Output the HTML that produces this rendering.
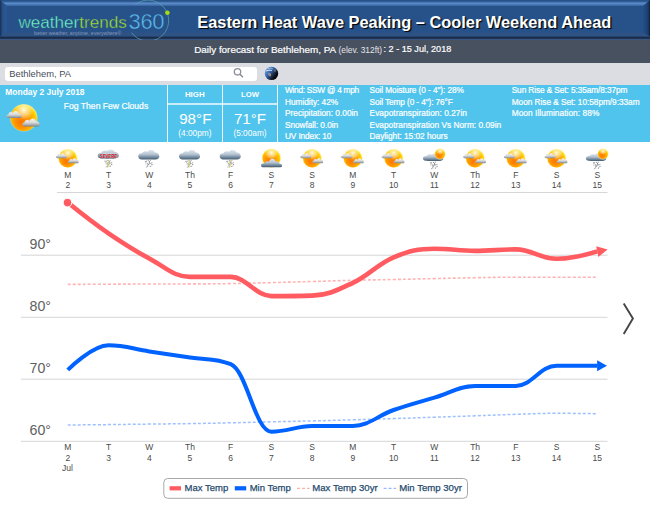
<!DOCTYPE html>
<html><head><meta charset="utf-8"><style>
*{margin:0;padding:0;box-sizing:border-box}
html,body{width:650px;height:505px;overflow:hidden;background:#fff;font-family:"Liberation Sans", sans-serif}
.t{position:absolute;white-space:nowrap;z-index:4}
#hdr{position:absolute;left:0;top:0;width:650px;height:40px;background:#29538b}
#gbar{position:absolute;left:0;top:40px;width:650px;height:23px;background:#485160}
#lbar{position:absolute;left:0;top:63px;width:650px;height:22px;background:#dcdde2}
#search{position:absolute;left:5px;top:67px;width:252px;height:14px;background:#fff;border-radius:3px}
#info{position:absolute;left:0;top:84.6px;width:650px;height:57.4px;background:#50c4ec}
.vl{position:absolute;top:85px;width:1.35px;height:57px;background:#eef9fe}
svg{position:absolute;left:0;top:0}
</style></head><body>

<div id="hdr"></div>
<svg width="650" height="63" style="z-index:1"><defs><linearGradient id="hl" x1="0" y1="0" x2="0" y2="1"><stop offset="0" stop-color="#3a69a6"/><stop offset="0.45" stop-color="#5a8ac7"/><stop offset="1" stop-color="#33629e"/></linearGradient><linearGradient id="lb" x1="0" y1="0" x2="1" y2="0"><stop offset="0" stop-color="#1a3256"/><stop offset="0.18" stop-color="#1f3c66"/><stop offset="0.3" stop-color="#27508a"/><stop offset="1" stop-color="#2b5894"/></linearGradient><linearGradient id="rb" x1="0" y1="0" x2="1" y2="0"><stop offset="0" stop-color="#23508a"/><stop offset="0.6" stop-color="#1d4274"/><stop offset="0.8" stop-color="#17345c"/><stop offset="1" stop-color="#0e203c"/></linearGradient></defs><rect x="0" y="0" width="650" height="38" fill="#265189"/><polygon points="0,1.6 650,1.6 643,6 7,6" fill="url(#hl)"/><polygon points="0,0 7,6 7,32.6 0,36.6" fill="url(#lb)"/><polygon points="650,0 643,6 643,32.6 650,36.6" fill="url(#rb)"/><polygon points="7,32.6 643,32.6 650,36.6 0,36.6" fill="#2f5285"/><rect x="0" y="36.6" width="650" height="2.3" fill="#1c2d4a"/><rect x="0" y="38.9" width="650" height="1.1" fill="#3a5580"/></svg>
<svg width="200" height="40" style="z-index:2"><path d="M 135.5 4.5 A 20.5 20.5 0 1 1 131.5 32.5" stroke="#5aa3ad" stroke-width="0.8" fill="none" opacity="0.9"/><circle cx="167.4" cy="12.7" r="2.3" fill="#a4dc10"/></svg>
<div class="t" style="left:18.40px;top:14.32px;font-size:17.1px;line-height:17.1px;color:#fff;font-weight:normal;z-index:3;letter-spacing:0px;-webkit-text-stroke:0.35px #265189"><span style="color:#70f6c2">weather</span><span style="color:#a2e02c">trends</span></div>
<div class="t" style="left:128.60px;top:11.08px;font-size:22px;line-height:22px;color:#5cbcec;font-weight:normal;z-index:3;letter-spacing:-0.35px;-webkit-text-stroke:0.45px #265189">360</div>
<div class="t" style="left:34.00px;top:30.60px;font-size:5.2px;line-height:5.2px;color:#8497b5;font-weight:normal;z-index:3">better weather, anytime, everywhere®</div>
<div class="t" style="left:197.30px;top:14.14px;font-size:16.37px;line-height:16.37px;color:#fff;font-weight:bold;z-index:3;text-shadow:1.2px 1.4px 1px #000">Eastern Heat Wave Peaking – Cooler Weekend Ahead</div>
<div id="gbar"></div>
<div class="t" style="left:194.20px;top:44.62px;font-size:9.9px;line-height:9.9px;color:#fff;font-weight:normal;-webkit-text-stroke:0.2px #fff;">Daily forecast for Bethlehem, PA</div>
<div class="t" style="left:338.50px;top:45.89px;font-size:8.4px;line-height:8.4px;color:#e4e6ea;font-weight:normal;">(elev. 312ft)</div>
<div class="t" style="left:383.50px;top:45.30px;font-size:9.1px;line-height:9.1px;color:#fff;font-weight:normal;-webkit-text-stroke:0.2px #fff;">: 2 - 15 Jul, 2018</div>
<div id="lbar"></div><div id="search"></div>
<div class="t" style="left:9.20px;top:68.84px;font-size:9.4px;line-height:9.4px;color:#474e5a;font-weight:normal;">Bethlehem, PA</div>
<svg width="650" height="100" style="z-index:2"><circle cx="237.5" cy="71.8" r="3.2" stroke="#8a8f98" stroke-width="1.3" fill="none"/><line x1="239.8" y1="74.1" x2="243" y2="77.3" stroke="#8a8f98" stroke-width="1.5"/><defs><linearGradient id="gl" x1="0.1" y1="0.2" x2="0.95" y2="0.85"><stop offset="0" stop-color="#6a9ad8"/><stop offset="0.35" stop-color="#2f62ad"/><stop offset="0.58" stop-color="#1d3152"/><stop offset="0.78" stop-color="#0a0d14"/><stop offset="1" stop-color="#050608"/></linearGradient></defs><circle cx="271.5" cy="73.4" r="6.7" fill="url(#gl)"/><path d="M 266 71 q 3 -1.5 6 -0.5" stroke="#e8f0fa" stroke-width="1" fill="none" opacity="0.85"/><path d="M 268 68.5 q 3 -1 5 0.5" stroke="#cfe0f5" stroke-width="0.8" fill="none" opacity="0.7"/><path d="M 268 73 q 2 -0.5 3 1 q 0.5 2 -1 2.5 q -2 -0.5 -2 -3.5 z" fill="#c8a080" opacity="0.75"/><ellipse cx="275" cy="70.5" rx="0.9" ry="1.3" fill="#b89070" opacity="0.6"/></svg>
<div id="info"></div>
<div class="vl" style="left:166.9px"></div>
<div class="vl" style="left:221.9px"></div>
<div class="vl" style="left:276.75px"></div>
<div style="position:absolute;left:167px;top:102.8px;width:110px;height:2px;background:rgba(255,255,255,0.7)"></div>
<div class="t" style="left:5.30px;top:88.15px;font-size:8.45px;line-height:8.45px;color:#fff;font-weight:bold;">Monday 2 July 2018</div>
<div class="t" style="left:63.80px;top:101.92px;font-size:8.6px;line-height:8.6px;color:#fff;font-weight:normal;-webkit-text-stroke:0.22px #fff;">Fog Then Few Clouds</div>
<div class="t" style="left:169.80px;top:90.61px;width:50px;text-align:center;font-size:7.9px;line-height:7.9px;color:#fff;font-weight:bold;">HIGH</div>
<div class="t" style="left:225.00px;top:90.78px;width:50px;text-align:center;font-size:7.7px;line-height:7.7px;color:#fff;font-weight:bold;">LOW</div>
<div class="t" style="left:170.30px;top:111.43px;width:50px;text-align:center;font-size:15.2px;line-height:15.2px;color:#fff;font-weight:normal;">98°F</div>
<div class="t" style="left:225.00px;top:111.43px;width:50px;text-align:center;font-size:15.2px;line-height:15.2px;color:#fff;font-weight:normal;">71°F</div>
<div class="t" style="left:169.90px;top:129.47px;width:50px;text-align:center;font-size:8.3px;line-height:8.3px;color:#fff;font-weight:normal;">(4:00pm)</div>
<div class="t" style="left:225.00px;top:129.47px;width:50px;text-align:center;font-size:8.3px;line-height:8.3px;color:#fff;font-weight:normal;">(5:00am)</div>
<div class="t" style="left:285.00px;top:86.47px;font-size:8.3px;line-height:8.3px;color:#fff;font-weight:normal;-webkit-text-stroke:0.22px #fff;letter-spacing:-0.276px">Wind: SSW @ 4 mph</div>
<div class="t" style="left:285.00px;top:97.97px;font-size:8.3px;line-height:8.3px;color:#fff;font-weight:normal;-webkit-text-stroke:0.22px #fff;letter-spacing:-0.031px">Humidity: 42%</div>
<div class="t" style="left:285.00px;top:109.27px;font-size:8.3px;line-height:8.3px;color:#fff;font-weight:normal;-webkit-text-stroke:0.22px #fff;letter-spacing:0.005px">Precipitation: 0.00in</div>
<div class="t" style="left:285.00px;top:120.77px;font-size:8.3px;line-height:8.3px;color:#fff;font-weight:normal;-webkit-text-stroke:0.22px #fff;letter-spacing:-0.06px">Snowfall: 0.0in</div>
<div class="t" style="left:285.00px;top:132.17px;font-size:8.3px;line-height:8.3px;color:#fff;font-weight:normal;-webkit-text-stroke:0.22px #fff;letter-spacing:-0.15px">UV Index: 10</div>
<div class="t" style="left:369.60px;top:86.47px;font-size:8.3px;line-height:8.3px;color:#fff;font-weight:normal;-webkit-text-stroke:0.22px #fff;letter-spacing:-0.089px">Soil Moisture (0 - 4"): 28%</div>
<div class="t" style="left:369.60px;top:97.97px;font-size:8.3px;line-height:8.3px;color:#fff;font-weight:normal;-webkit-text-stroke:0.22px #fff;letter-spacing:-0.117px">Soil Temp (0 - 4"): 76°F</div>
<div class="t" style="left:369.60px;top:109.27px;font-size:8.3px;line-height:8.3px;color:#fff;font-weight:normal;-webkit-text-stroke:0.22px #fff;letter-spacing:0.038px">Evapotranspiration: 0.27in</div>
<div class="t" style="left:369.60px;top:120.77px;font-size:8.3px;line-height:8.3px;color:#fff;font-weight:normal;-webkit-text-stroke:0.22px #fff;letter-spacing:0.018px">Evapotranspiration Vs Norm: 0.09in</div>
<div class="t" style="left:369.60px;top:132.17px;font-size:8.3px;line-height:8.3px;color:#fff;font-weight:normal;-webkit-text-stroke:0.22px #fff;letter-spacing:-0.019px">Daylight: 15:02 hours</div>
<div class="t" style="left:511.70px;top:86.47px;font-size:8.3px;line-height:8.3px;color:#fff;font-weight:normal;-webkit-text-stroke:0.22px #fff;letter-spacing:-0.103px">Sun Rise &amp; Set: 5:35am/8:37pm</div>
<div class="t" style="left:511.70px;top:97.97px;font-size:8.3px;line-height:8.3px;color:#fff;font-weight:normal;-webkit-text-stroke:0.22px #fff;letter-spacing:-0.042px">Moon Rise &amp; Set: 10:58pm/9:33am</div>
<div class="t" style="left:511.70px;top:109.27px;font-size:8.3px;line-height:8.3px;color:#fff;font-weight:normal;-webkit-text-stroke:0.22px #fff;letter-spacing:0.064px">Moon Illumination: 88%</div>
<svg width="650" height="505" style="z-index:1"><defs>
<radialGradient id="sg" cx="0.45" cy="0.58" r="0.58" fx="0.4" fy="0.68"><stop offset="0" stop-color="#ff7400"/><stop offset="0.45" stop-color="#ff9400"/><stop offset="0.78" stop-color="#ffbc00"/><stop offset="0.92" stop-color="#ffd600"/><stop offset="1" stop-color="#ffea60"/></radialGradient><radialGradient id="sh" cx="0.5" cy="0.2" r="0.38"><stop offset="0" stop-color="#fffef0" stop-opacity="0.95"/><stop offset="0.6" stop-color="#fff6c0" stop-opacity="0.5"/><stop offset="1" stop-color="#fff0a0" stop-opacity="0"/></radialGradient>
<linearGradient id="cg" x1="0" y1="0" x2="0" y2="1"><stop offset="0" stop-color="#f6f6f6"/><stop offset="0.5" stop-color="#dadada"/><stop offset="0.8" stop-color="#a8acae"/><stop offset="1" stop-color="#7c8084"/></linearGradient>
<linearGradient id="cg2" x1="0" y1="0" x2="0" y2="1"><stop offset="0" stop-color="#dde6ee"/><stop offset="0.45" stop-color="#b6c4d2"/><stop offset="0.75" stop-color="#758ca1"/><stop offset="1" stop-color="#44596c"/></linearGradient>
</defs><circle cx="23.80" cy="117.80" r="13.80" fill="#ffe9a0" opacity="0.55"/><circle cx="23.80" cy="117.80" r="13.2" fill="url(#sg)"/><circle cx="23.80" cy="117.80" r="13.2" fill="url(#sh)"/><g transform="translate(14.50,114.50) scale(7)"><path d="M -0.92 0.45 C -1.22 0.45 -1.22 -0.02 -0.86 0.0 C -0.86 -0.36 -0.42 -0.46 -0.26 -0.2 C -0.12 -0.62 0.48 -0.62 0.54 -0.16 C 0.86 -0.22 1.12 0.1 0.96 0.32 C 1.04 0.46 0.96 0.5 0.85 0.5 L -0.88 0.5 Z" fill="url(#cg)"/></g><g transform="translate(31.50,122.50) scale(8)"><path d="M -0.92 0.45 C -1.22 0.45 -1.22 -0.02 -0.86 0.0 C -0.86 -0.36 -0.42 -0.46 -0.26 -0.2 C -0.12 -0.62 0.48 -0.62 0.54 -0.16 C 0.86 -0.22 1.12 0.1 0.96 0.32 C 1.04 0.46 0.96 0.5 0.85 0.5 L -0.88 0.5 Z" fill="url(#cg)"/></g><line x1="57" y1="192.5" x2="607.5" y2="192.5" stroke="#d6d6d6" stroke-width="1"/><line x1="21" y1="255.2" x2="607.5" y2="255.2" stroke="#d6d6d6" stroke-width="1"/><line x1="21" y1="317.3" x2="607.5" y2="317.3" stroke="#d6d6d6" stroke-width="1"/><line x1="21" y1="379.2" x2="607.5" y2="379.2" stroke="#d6d6d6" stroke-width="1"/><line x1="21" y1="441.3" x2="607.5" y2="441.3" stroke="#d6d6d6" stroke-width="1"/><path d="M 67.80 284.40 C 67.80 284.40 92.24 284.28 108.53 284.20 C 124.82 284.12 132.97 284.06 149.26 284.00 C 165.55 283.94 173.70 283.98 189.99 283.90 C 206.28 283.82 214.43 283.86 230.72 283.60 C 247.01 283.34 255.16 283.02 271.45 282.60 C 287.74 282.18 295.89 281.96 312.18 281.50 C 328.47 281.04 336.62 280.70 352.91 280.30 C 369.20 279.90 377.35 279.84 393.64 279.50 C 409.93 279.16 418.08 278.96 434.37 278.60 C 450.66 278.24 458.81 277.98 475.10 277.70 C 491.39 277.42 499.54 277.20 515.83 277.20 C 532.12 277.20 540.27 277.20 556.56 277.20 C 572.85 277.20 597.29 277.20 597.29 277.20" stroke="#ffb4b4" stroke-width="1.6" stroke-dasharray="3,2" fill="none"/><path d="M 67.80 425.00 C 67.80 425.00 92.24 424.78 108.53 424.60 C 124.82 424.42 132.97 424.30 149.26 424.10 C 165.55 423.90 173.70 423.86 189.99 423.60 C 206.28 423.34 214.43 423.16 230.72 422.80 C 247.01 422.44 255.16 422.18 271.45 421.80 C 287.74 421.42 295.89 421.30 312.18 420.90 C 328.47 420.50 336.62 420.26 352.91 419.80 C 369.20 419.34 377.35 419.12 393.64 418.60 C 409.93 418.08 418.08 417.76 434.37 417.20 C 450.66 416.64 458.81 416.38 475.10 415.80 C 491.39 415.22 499.54 414.80 515.83 414.30 C 532.12 413.80 540.27 413.30 556.56 413.30 C 572.85 413.30 597.29 413.70 597.29 413.70" stroke="#9ec0ff" stroke-width="1.5" stroke-dasharray="3,2" fill="none"/><path d="M 67.80 202.50 C 67.80 202.50 92.24 222.20 108.53 233.40 C 124.82 244.60 132.97 249.80 149.26 258.50 C 165.55 267.20 173.70 276.90 189.99 276.90 C 206.28 276.90 214.43 276.90 230.72 276.90 C 247.01 276.90 255.16 296.10 271.45 296.10 C 287.74 296.10 295.89 296.10 312.18 295.60 C 328.47 295.10 336.62 290.46 352.91 282.80 C 369.20 275.14 377.35 264.12 393.64 257.30 C 409.93 250.48 418.08 248.70 434.37 248.70 C 450.66 248.70 458.81 250.90 475.10 250.90 C 491.39 250.90 499.54 249.40 515.83 249.40 C 532.12 249.40 540.27 258.80 556.56 258.80 C 572.85 258.80 597.29 251.40 597.29 251.40" stroke="#ff5b60" stroke-width="4.6" fill="none" stroke-linejoin="round"/><path d="M 67.80 369.90 C 67.80 369.90 92.24 345.30 108.53 345.30 C 124.82 345.30 132.97 348.96 149.26 351.40 C 165.55 353.84 173.70 354.94 189.99 357.50 C 206.28 360.06 214.43 357.50 230.72 364.20 C 247.01 370.90 255.16 431.70 271.45 431.70 C 287.74 431.70 295.89 426.30 312.18 426.10 C 328.47 425.90 336.62 426.10 352.91 425.90 C 369.20 425.70 377.35 415.66 393.64 410.00 C 409.93 404.34 418.08 402.40 434.37 397.60 C 450.66 392.80 458.81 386.10 475.10 386.00 C 491.39 385.90 499.54 386.00 515.83 385.90 C 532.12 385.80 540.27 365.70 556.56 365.70 C 572.85 365.70 597.29 365.80 597.29 365.80" stroke="#0062ff" stroke-width="4" fill="none" stroke-linejoin="round"/><path d="M 607.60 249.54 L 596.22 246.21 L 598.38 256.99 Z" fill="#ff5b60"/><path d="M 607.00 365.80 L 597.10 360.25 L 597.10 371.35 Z" fill="#0062ff"/><circle cx="67.5" cy="202.6" r="4.3" fill="#ff5b60" stroke="#fff" stroke-width="1"/><path d="M 623.7 303.6 L 632.9 318.6 L 623.7 333.9" stroke="#444" stroke-width="1.9" fill="none"/><circle cx="67.80" cy="158.40" r="9.70" fill="#ffe9a0" opacity="0.55"/><circle cx="67.80" cy="158.40" r="9.1" fill="url(#sg)"/><circle cx="67.80" cy="158.40" r="9.1" fill="url(#sh)"/><g transform="translate(61.60,155.80) scale(5.1)"><path d="M -0.92 0.45 C -1.22 0.45 -1.22 -0.02 -0.86 0.0 C -0.86 -0.36 -0.42 -0.46 -0.26 -0.2 C -0.12 -0.62 0.48 -0.62 0.54 -0.16 C 0.86 -0.22 1.12 0.1 0.96 0.32 C 1.04 0.46 0.96 0.5 0.85 0.5 L -0.88 0.5 Z" fill="url(#cg)"/></g><g transform="translate(73.70,160.70) scale(5.0)"><path d="M -0.92 0.45 C -1.22 0.45 -1.22 -0.02 -0.86 0.0 C -0.86 -0.36 -0.42 -0.46 -0.26 -0.2 C -0.12 -0.62 0.48 -0.62 0.54 -0.16 C 0.86 -0.22 1.12 0.1 0.96 0.32 C 1.04 0.46 0.96 0.5 0.85 0.5 L -0.88 0.5 Z" fill="url(#cg)"/></g><g fill="#6d747a"><circle cx="105.60" cy="162.27" r="0.56" opacity="0.48"/><circle cx="107.55" cy="163.75" r="0.41" opacity="0.68"/><circle cx="107.88" cy="160.26" r="0.42" opacity="0.49"/><circle cx="111.10" cy="162.97" r="0.43" opacity="0.55"/><circle cx="111.60" cy="164.39" r="0.54" opacity="0.63"/><circle cx="106.21" cy="166.83" r="0.61" opacity="0.58"/><circle cx="104.98" cy="161.01" r="0.48" opacity="0.82"/><circle cx="109.27" cy="161.27" r="0.56" opacity="0.62"/><circle cx="105.36" cy="163.83" r="0.41" opacity="0.54"/><circle cx="108.05" cy="164.76" r="0.48" opacity="0.71"/><circle cx="106.98" cy="163.17" r="0.60" opacity="0.76"/><circle cx="109.18" cy="161.71" r="0.53" opacity="0.84"/><circle cx="107.18" cy="165.11" r="0.65" opacity="0.50"/><circle cx="110.56" cy="162.93" r="0.44" opacity="0.67"/><circle cx="110.18" cy="160.27" r="0.59" opacity="0.71"/><circle cx="107.48" cy="166.13" r="0.57" opacity="0.72"/><circle cx="108.22" cy="164.06" r="0.61" opacity="0.88"/><circle cx="109.78" cy="163.32" r="0.42" opacity="0.77"/><circle cx="111.87" cy="164.53" r="0.61" opacity="0.58"/><circle cx="109.89" cy="162.70" r="0.41" opacity="0.66"/><circle cx="105.02" cy="161.18" r="0.41" opacity="0.80"/><circle cx="106.17" cy="160.91" r="0.50" opacity="0.84"/><circle cx="108.04" cy="160.56" r="0.54" opacity="0.85"/><circle cx="110.68" cy="165.73" r="0.47" opacity="0.64"/><circle cx="111.68" cy="162.51" r="0.64" opacity="0.52"/><circle cx="106.09" cy="161.23" r="0.46" opacity="0.67"/><circle cx="106.86" cy="164.12" r="0.40" opacity="0.64"/><circle cx="109.07" cy="162.58" r="0.64" opacity="0.76"/><circle cx="109.40" cy="163.61" r="0.57" opacity="0.47"/><circle cx="110.07" cy="166.30" r="0.62" opacity="0.81"/></g><path d="M 109.03 160.00 l -2 3.6 l 2.4 0.2 l -1.8 4" stroke="#d8cc60" stroke-width="0.9" fill="none" opacity="0.85"/><g transform="translate(108.23,153.90) scale(1.0,0.95)"><path d="M -10.5 2.2 C -10.8 -0.5 -8.5 -1.5 -6.8 -1.2 C -5.8 -3.6 -2.6 -4 -1.2 -2.8 C 0.4 -5.4 5.2 -5.2 6 -2.2 C 8.4 -2.4 10.8 -0.4 10.6 2.2 C 10.4 4.4 8 5 5 5 L -5 5 C -8.5 5 -10.3 4.2 -10.5 2.2 Z" fill="url(#cg2)"/></g><text x="99.83" y="158.10" font-family="Liberation Sans, sans-serif" font-weight="bold" font-size="5" fill="#cc0c18" stroke="#ffffff" stroke-width="0.3" paint-order="stroke" textLength="17.2" lengthAdjust="spacingAndGlyphs">SEVERE</text><g fill="#6d747a"><circle cx="145.83" cy="162.47" r="0.56" opacity="0.48"/><circle cx="147.78" cy="163.95" r="0.41" opacity="0.68"/><circle cx="148.11" cy="160.46" r="0.42" opacity="0.49"/><circle cx="151.33" cy="163.17" r="0.43" opacity="0.55"/><circle cx="151.83" cy="164.59" r="0.54" opacity="0.63"/><circle cx="146.44" cy="167.03" r="0.61" opacity="0.58"/><circle cx="145.21" cy="161.21" r="0.48" opacity="0.82"/><circle cx="149.50" cy="161.47" r="0.56" opacity="0.62"/><circle cx="145.59" cy="164.03" r="0.41" opacity="0.54"/><circle cx="148.28" cy="164.96" r="0.48" opacity="0.71"/><circle cx="147.21" cy="163.37" r="0.60" opacity="0.76"/><circle cx="149.41" cy="161.91" r="0.53" opacity="0.84"/><circle cx="147.41" cy="165.31" r="0.65" opacity="0.50"/><circle cx="150.79" cy="163.13" r="0.44" opacity="0.67"/><circle cx="150.41" cy="160.47" r="0.59" opacity="0.71"/><circle cx="147.71" cy="166.33" r="0.57" opacity="0.72"/><circle cx="148.45" cy="164.26" r="0.61" opacity="0.88"/><circle cx="150.01" cy="163.52" r="0.42" opacity="0.77"/><circle cx="152.10" cy="164.73" r="0.61" opacity="0.58"/><circle cx="150.12" cy="162.90" r="0.41" opacity="0.66"/><circle cx="145.25" cy="161.38" r="0.41" opacity="0.80"/><circle cx="146.40" cy="161.11" r="0.50" opacity="0.84"/><circle cx="148.27" cy="160.76" r="0.54" opacity="0.85"/><circle cx="150.91" cy="165.93" r="0.47" opacity="0.64"/><circle cx="151.91" cy="162.71" r="0.64" opacity="0.52"/><circle cx="146.32" cy="161.43" r="0.46" opacity="0.67"/><circle cx="147.09" cy="164.32" r="0.40" opacity="0.64"/><circle cx="149.30" cy="162.78" r="0.64" opacity="0.76"/><circle cx="149.63" cy="163.81" r="0.57" opacity="0.47"/><circle cx="150.30" cy="166.50" r="0.62" opacity="0.81"/></g><g transform="translate(148.76,154.60) scale(1,1)"><path d="M -10.5 2.2 C -10.8 -0.5 -8.5 -1.5 -6.8 -1.2 C -5.8 -3.6 -2.6 -4 -1.2 -2.8 C 0.4 -5.4 5.2 -5.2 6 -2.2 C 8.4 -2.4 10.8 -0.4 10.6 2.2 C 10.4 4.4 8 5 5 5 L -5 5 C -8.5 5 -10.3 4.2 -10.5 2.2 Z" fill="url(#cg2)"/></g><g fill="#6d747a"><circle cx="186.56" cy="162.47" r="0.56" opacity="0.48"/><circle cx="188.51" cy="163.95" r="0.41" opacity="0.68"/><circle cx="188.84" cy="160.46" r="0.42" opacity="0.49"/><circle cx="192.06" cy="163.17" r="0.43" opacity="0.55"/><circle cx="192.56" cy="164.59" r="0.54" opacity="0.63"/><circle cx="187.17" cy="167.03" r="0.61" opacity="0.58"/><circle cx="185.94" cy="161.21" r="0.48" opacity="0.82"/><circle cx="190.23" cy="161.47" r="0.56" opacity="0.62"/><circle cx="186.32" cy="164.03" r="0.41" opacity="0.54"/><circle cx="189.01" cy="164.96" r="0.48" opacity="0.71"/><circle cx="187.94" cy="163.37" r="0.60" opacity="0.76"/><circle cx="190.14" cy="161.91" r="0.53" opacity="0.84"/><circle cx="188.14" cy="165.31" r="0.65" opacity="0.50"/><circle cx="191.52" cy="163.13" r="0.44" opacity="0.67"/><circle cx="191.14" cy="160.47" r="0.59" opacity="0.71"/><circle cx="188.44" cy="166.33" r="0.57" opacity="0.72"/><circle cx="189.18" cy="164.26" r="0.61" opacity="0.88"/><circle cx="190.74" cy="163.52" r="0.42" opacity="0.77"/><circle cx="192.83" cy="164.73" r="0.61" opacity="0.58"/><circle cx="190.85" cy="162.90" r="0.41" opacity="0.66"/><circle cx="185.98" cy="161.38" r="0.41" opacity="0.80"/><circle cx="187.13" cy="161.11" r="0.50" opacity="0.84"/><circle cx="189.00" cy="160.76" r="0.54" opacity="0.85"/><circle cx="191.64" cy="165.93" r="0.47" opacity="0.64"/><circle cx="192.64" cy="162.71" r="0.64" opacity="0.52"/><circle cx="187.05" cy="161.43" r="0.46" opacity="0.67"/><circle cx="187.82" cy="164.32" r="0.40" opacity="0.64"/><circle cx="190.03" cy="162.78" r="0.64" opacity="0.76"/><circle cx="190.36" cy="163.81" r="0.57" opacity="0.47"/><circle cx="191.03" cy="166.50" r="0.62" opacity="0.81"/></g><path d="M 189.99 160.20 l -2 3.6 l 2.4 0.2 l -1.8 4" stroke="#d8cc60" stroke-width="0.9" fill="none" opacity="0.85"/><g transform="translate(189.49,154.60) scale(1,1)"><path d="M -10.5 2.2 C -10.8 -0.5 -8.5 -1.5 -6.8 -1.2 C -5.8 -3.6 -2.6 -4 -1.2 -2.8 C 0.4 -5.4 5.2 -5.2 6 -2.2 C 8.4 -2.4 10.8 -0.4 10.6 2.2 C 10.4 4.4 8 5 5 5 L -5 5 C -8.5 5 -10.3 4.2 -10.5 2.2 Z" fill="url(#cg2)"/></g><g fill="#6d747a"><circle cx="227.29" cy="162.47" r="0.56" opacity="0.48"/><circle cx="229.24" cy="163.95" r="0.41" opacity="0.68"/><circle cx="229.57" cy="160.46" r="0.42" opacity="0.49"/><circle cx="232.79" cy="163.17" r="0.43" opacity="0.55"/><circle cx="233.29" cy="164.59" r="0.54" opacity="0.63"/><circle cx="227.90" cy="167.03" r="0.61" opacity="0.58"/><circle cx="226.67" cy="161.21" r="0.48" opacity="0.82"/><circle cx="230.96" cy="161.47" r="0.56" opacity="0.62"/><circle cx="227.05" cy="164.03" r="0.41" opacity="0.54"/><circle cx="229.74" cy="164.96" r="0.48" opacity="0.71"/><circle cx="228.67" cy="163.37" r="0.60" opacity="0.76"/><circle cx="230.87" cy="161.91" r="0.53" opacity="0.84"/><circle cx="228.87" cy="165.31" r="0.65" opacity="0.50"/><circle cx="232.25" cy="163.13" r="0.44" opacity="0.67"/><circle cx="231.87" cy="160.47" r="0.59" opacity="0.71"/><circle cx="229.17" cy="166.33" r="0.57" opacity="0.72"/><circle cx="229.91" cy="164.26" r="0.61" opacity="0.88"/><circle cx="231.47" cy="163.52" r="0.42" opacity="0.77"/><circle cx="233.56" cy="164.73" r="0.61" opacity="0.58"/><circle cx="231.58" cy="162.90" r="0.41" opacity="0.66"/><circle cx="226.71" cy="161.38" r="0.41" opacity="0.80"/><circle cx="227.86" cy="161.11" r="0.50" opacity="0.84"/><circle cx="229.73" cy="160.76" r="0.54" opacity="0.85"/><circle cx="232.37" cy="165.93" r="0.47" opacity="0.64"/><circle cx="233.37" cy="162.71" r="0.64" opacity="0.52"/><circle cx="227.78" cy="161.43" r="0.46" opacity="0.67"/><circle cx="228.55" cy="164.32" r="0.40" opacity="0.64"/><circle cx="230.76" cy="162.78" r="0.64" opacity="0.76"/><circle cx="231.09" cy="163.81" r="0.57" opacity="0.47"/><circle cx="231.76" cy="166.50" r="0.62" opacity="0.81"/></g><path d="M 230.72 160.20 l -2 3.6 l 2.4 0.2 l -1.8 4" stroke="#d8cc60" stroke-width="0.9" fill="none" opacity="0.85"/><g transform="translate(230.22,154.60) scale(1,1)"><path d="M -10.5 2.2 C -10.8 -0.5 -8.5 -1.5 -6.8 -1.2 C -5.8 -3.6 -2.6 -4 -1.2 -2.8 C 0.4 -5.4 5.2 -5.2 6 -2.2 C 8.4 -2.4 10.8 -0.4 10.6 2.2 C 10.4 4.4 8 5 5 5 L -5 5 C -8.5 5 -10.3 4.2 -10.5 2.2 Z" fill="url(#cg2)"/></g><circle cx="271.45" cy="158.10" r="9.70" fill="#ffe9a0" opacity="0.55"/><circle cx="271.45" cy="158.10" r="9.1" fill="url(#sg)"/><circle cx="271.45" cy="158.10" r="9.1" fill="url(#sh)"/><g transform="translate(271.45,162.30) scale(1,1)"><path d="M -10.3 3.5 C -11 1.8 -9 0.6 -7 0.9 C -6 -1.2 -3.6 -1.6 -2.6 -0.6 C -1.6 -4.2 3.2 -4.6 4.1 -1 C 6 -1.5 8 0 8 1.4 C 10 1.4 11 2.8 10.5 4.2 C 10.2 4.7 9.6 4.9 9 4.9 L -9 4.9 C -9.8 4.9 -10.2 4.2 -10.3 3.5 Z" fill="url(#cg2)"/></g><circle cx="312.18" cy="158.40" r="9.70" fill="#ffe9a0" opacity="0.55"/><circle cx="312.18" cy="158.40" r="9.1" fill="url(#sg)"/><circle cx="312.18" cy="158.40" r="9.1" fill="url(#sh)"/><g transform="translate(305.98,155.80) scale(5.1)"><path d="M -0.92 0.45 C -1.22 0.45 -1.22 -0.02 -0.86 0.0 C -0.86 -0.36 -0.42 -0.46 -0.26 -0.2 C -0.12 -0.62 0.48 -0.62 0.54 -0.16 C 0.86 -0.22 1.12 0.1 0.96 0.32 C 1.04 0.46 0.96 0.5 0.85 0.5 L -0.88 0.5 Z" fill="url(#cg)"/></g><g transform="translate(318.08,160.70) scale(5.0)"><path d="M -0.92 0.45 C -1.22 0.45 -1.22 -0.02 -0.86 0.0 C -0.86 -0.36 -0.42 -0.46 -0.26 -0.2 C -0.12 -0.62 0.48 -0.62 0.54 -0.16 C 0.86 -0.22 1.12 0.1 0.96 0.32 C 1.04 0.46 0.96 0.5 0.85 0.5 L -0.88 0.5 Z" fill="url(#cg)"/></g><circle cx="352.91" cy="158.40" r="9.70" fill="#ffe9a0" opacity="0.55"/><circle cx="352.91" cy="158.40" r="9.1" fill="url(#sg)"/><circle cx="352.91" cy="158.40" r="9.1" fill="url(#sh)"/><g transform="translate(346.71,155.80) scale(5.1)"><path d="M -0.92 0.45 C -1.22 0.45 -1.22 -0.02 -0.86 0.0 C -0.86 -0.36 -0.42 -0.46 -0.26 -0.2 C -0.12 -0.62 0.48 -0.62 0.54 -0.16 C 0.86 -0.22 1.12 0.1 0.96 0.32 C 1.04 0.46 0.96 0.5 0.85 0.5 L -0.88 0.5 Z" fill="url(#cg)"/></g><g transform="translate(358.81,160.70) scale(5.0)"><path d="M -0.92 0.45 C -1.22 0.45 -1.22 -0.02 -0.86 0.0 C -0.86 -0.36 -0.42 -0.46 -0.26 -0.2 C -0.12 -0.62 0.48 -0.62 0.54 -0.16 C 0.86 -0.22 1.12 0.1 0.96 0.32 C 1.04 0.46 0.96 0.5 0.85 0.5 L -0.88 0.5 Z" fill="url(#cg)"/></g><circle cx="393.64" cy="158.40" r="9.70" fill="#ffe9a0" opacity="0.55"/><circle cx="393.64" cy="158.40" r="9.1" fill="url(#sg)"/><circle cx="393.64" cy="158.40" r="9.1" fill="url(#sh)"/><g transform="translate(387.44,155.80) scale(5.1)"><path d="M -0.92 0.45 C -1.22 0.45 -1.22 -0.02 -0.86 0.0 C -0.86 -0.36 -0.42 -0.46 -0.26 -0.2 C -0.12 -0.62 0.48 -0.62 0.54 -0.16 C 0.86 -0.22 1.12 0.1 0.96 0.32 C 1.04 0.46 0.96 0.5 0.85 0.5 L -0.88 0.5 Z" fill="url(#cg)"/></g><g transform="translate(399.54,160.70) scale(5.0)"><path d="M -0.92 0.45 C -1.22 0.45 -1.22 -0.02 -0.86 0.0 C -0.86 -0.36 -0.42 -0.46 -0.26 -0.2 C -0.12 -0.62 0.48 -0.62 0.54 -0.16 C 0.86 -0.22 1.12 0.1 0.96 0.32 C 1.04 0.46 0.96 0.5 0.85 0.5 L -0.88 0.5 Z" fill="url(#cg)"/></g><g fill="#6d747a"><circle cx="430.94" cy="164.07" r="0.56" opacity="0.48"/><circle cx="432.89" cy="165.55" r="0.41" opacity="0.68"/><circle cx="433.22" cy="162.06" r="0.42" opacity="0.49"/><circle cx="436.44" cy="164.77" r="0.43" opacity="0.55"/><circle cx="436.94" cy="166.19" r="0.54" opacity="0.63"/><circle cx="431.55" cy="168.63" r="0.61" opacity="0.58"/><circle cx="430.32" cy="162.81" r="0.48" opacity="0.82"/><circle cx="434.61" cy="163.07" r="0.56" opacity="0.62"/><circle cx="430.70" cy="165.63" r="0.41" opacity="0.54"/><circle cx="433.39" cy="166.56" r="0.48" opacity="0.71"/><circle cx="432.32" cy="164.97" r="0.60" opacity="0.76"/><circle cx="434.52" cy="163.51" r="0.53" opacity="0.84"/><circle cx="432.52" cy="166.91" r="0.65" opacity="0.50"/><circle cx="435.90" cy="164.73" r="0.44" opacity="0.67"/><circle cx="435.52" cy="162.07" r="0.59" opacity="0.71"/><circle cx="432.82" cy="167.93" r="0.57" opacity="0.72"/><circle cx="433.56" cy="165.86" r="0.61" opacity="0.88"/><circle cx="435.12" cy="165.12" r="0.42" opacity="0.77"/><circle cx="437.21" cy="166.33" r="0.61" opacity="0.58"/><circle cx="435.23" cy="164.50" r="0.41" opacity="0.66"/><circle cx="430.36" cy="162.98" r="0.41" opacity="0.80"/><circle cx="431.51" cy="162.71" r="0.50" opacity="0.84"/><circle cx="433.38" cy="162.36" r="0.54" opacity="0.85"/><circle cx="436.02" cy="167.53" r="0.47" opacity="0.64"/><circle cx="437.02" cy="164.31" r="0.64" opacity="0.52"/><circle cx="431.43" cy="163.03" r="0.46" opacity="0.67"/><circle cx="432.20" cy="165.92" r="0.40" opacity="0.64"/><circle cx="434.41" cy="164.38" r="0.64" opacity="0.76"/><circle cx="434.74" cy="165.41" r="0.57" opacity="0.47"/><circle cx="435.41" cy="168.10" r="0.62" opacity="0.81"/></g><g transform="translate(433.17,157.00) scale(0.97,0.8)"><path d="M -10.5 2.2 C -10.8 -0.5 -8.5 -1.5 -6.8 -1.2 C -5.8 -3.6 -2.6 -4 -1.2 -2.8 C 0.4 -5.4 5.2 -5.2 6 -2.2 C 8.4 -2.4 10.8 -0.4 10.6 2.2 C 10.4 4.4 8 5 5 5 L -5 5 C -8.5 5 -10.3 4.2 -10.5 2.2 Z" fill="url(#cg2)"/></g><circle cx="440.07" cy="154.00" r="5.70" fill="#ffe9a0" opacity="0.55"/><circle cx="440.07" cy="154.00" r="5.1" fill="url(#sg)"/><circle cx="440.07" cy="154.00" r="5.1" fill="url(#sh)"/><circle cx="475.10" cy="158.40" r="9.70" fill="#ffe9a0" opacity="0.55"/><circle cx="475.10" cy="158.40" r="9.1" fill="url(#sg)"/><circle cx="475.10" cy="158.40" r="9.1" fill="url(#sh)"/><g transform="translate(468.90,155.80) scale(5.1)"><path d="M -0.92 0.45 C -1.22 0.45 -1.22 -0.02 -0.86 0.0 C -0.86 -0.36 -0.42 -0.46 -0.26 -0.2 C -0.12 -0.62 0.48 -0.62 0.54 -0.16 C 0.86 -0.22 1.12 0.1 0.96 0.32 C 1.04 0.46 0.96 0.5 0.85 0.5 L -0.88 0.5 Z" fill="url(#cg)"/></g><g transform="translate(481.00,160.70) scale(5.0)"><path d="M -0.92 0.45 C -1.22 0.45 -1.22 -0.02 -0.86 0.0 C -0.86 -0.36 -0.42 -0.46 -0.26 -0.2 C -0.12 -0.62 0.48 -0.62 0.54 -0.16 C 0.86 -0.22 1.12 0.1 0.96 0.32 C 1.04 0.46 0.96 0.5 0.85 0.5 L -0.88 0.5 Z" fill="url(#cg)"/></g><circle cx="515.83" cy="158.40" r="9.70" fill="#ffe9a0" opacity="0.55"/><circle cx="515.83" cy="158.40" r="9.1" fill="url(#sg)"/><circle cx="515.83" cy="158.40" r="9.1" fill="url(#sh)"/><g transform="translate(509.63,155.80) scale(5.1)"><path d="M -0.92 0.45 C -1.22 0.45 -1.22 -0.02 -0.86 0.0 C -0.86 -0.36 -0.42 -0.46 -0.26 -0.2 C -0.12 -0.62 0.48 -0.62 0.54 -0.16 C 0.86 -0.22 1.12 0.1 0.96 0.32 C 1.04 0.46 0.96 0.5 0.85 0.5 L -0.88 0.5 Z" fill="url(#cg)"/></g><g transform="translate(521.73,160.70) scale(5.0)"><path d="M -0.92 0.45 C -1.22 0.45 -1.22 -0.02 -0.86 0.0 C -0.86 -0.36 -0.42 -0.46 -0.26 -0.2 C -0.12 -0.62 0.48 -0.62 0.54 -0.16 C 0.86 -0.22 1.12 0.1 0.96 0.32 C 1.04 0.46 0.96 0.5 0.85 0.5 L -0.88 0.5 Z" fill="url(#cg)"/></g><circle cx="556.56" cy="158.40" r="9.70" fill="#ffe9a0" opacity="0.55"/><circle cx="556.56" cy="158.40" r="9.1" fill="url(#sg)"/><circle cx="556.56" cy="158.40" r="9.1" fill="url(#sh)"/><g transform="translate(550.36,155.80) scale(5.1)"><path d="M -0.92 0.45 C -1.22 0.45 -1.22 -0.02 -0.86 0.0 C -0.86 -0.36 -0.42 -0.46 -0.26 -0.2 C -0.12 -0.62 0.48 -0.62 0.54 -0.16 C 0.86 -0.22 1.12 0.1 0.96 0.32 C 1.04 0.46 0.96 0.5 0.85 0.5 L -0.88 0.5 Z" fill="url(#cg)"/></g><g transform="translate(562.46,160.70) scale(5.0)"><path d="M -0.92 0.45 C -1.22 0.45 -1.22 -0.02 -0.86 0.0 C -0.86 -0.36 -0.42 -0.46 -0.26 -0.2 C -0.12 -0.62 0.48 -0.62 0.54 -0.16 C 0.86 -0.22 1.12 0.1 0.96 0.32 C 1.04 0.46 0.96 0.5 0.85 0.5 L -0.88 0.5 Z" fill="url(#cg)"/></g><g fill="#6d747a"><circle cx="593.86" cy="164.07" r="0.56" opacity="0.48"/><circle cx="595.81" cy="165.55" r="0.41" opacity="0.68"/><circle cx="596.14" cy="162.06" r="0.42" opacity="0.49"/><circle cx="599.36" cy="164.77" r="0.43" opacity="0.55"/><circle cx="599.86" cy="166.19" r="0.54" opacity="0.63"/><circle cx="594.47" cy="168.63" r="0.61" opacity="0.58"/><circle cx="593.24" cy="162.81" r="0.48" opacity="0.82"/><circle cx="597.53" cy="163.07" r="0.56" opacity="0.62"/><circle cx="593.62" cy="165.63" r="0.41" opacity="0.54"/><circle cx="596.31" cy="166.56" r="0.48" opacity="0.71"/><circle cx="595.24" cy="164.97" r="0.60" opacity="0.76"/><circle cx="597.44" cy="163.51" r="0.53" opacity="0.84"/><circle cx="595.44" cy="166.91" r="0.65" opacity="0.50"/><circle cx="598.82" cy="164.73" r="0.44" opacity="0.67"/><circle cx="598.44" cy="162.07" r="0.59" opacity="0.71"/><circle cx="595.74" cy="167.93" r="0.57" opacity="0.72"/><circle cx="596.48" cy="165.86" r="0.61" opacity="0.88"/><circle cx="598.04" cy="165.12" r="0.42" opacity="0.77"/><circle cx="600.13" cy="166.33" r="0.61" opacity="0.58"/><circle cx="598.15" cy="164.50" r="0.41" opacity="0.66"/><circle cx="593.28" cy="162.98" r="0.41" opacity="0.80"/><circle cx="594.43" cy="162.71" r="0.50" opacity="0.84"/><circle cx="596.30" cy="162.36" r="0.54" opacity="0.85"/><circle cx="598.94" cy="167.53" r="0.47" opacity="0.64"/><circle cx="599.94" cy="164.31" r="0.64" opacity="0.52"/><circle cx="594.35" cy="163.03" r="0.46" opacity="0.67"/><circle cx="595.12" cy="165.92" r="0.40" opacity="0.64"/><circle cx="597.33" cy="164.38" r="0.64" opacity="0.76"/><circle cx="597.66" cy="165.41" r="0.57" opacity="0.47"/><circle cx="598.33" cy="168.10" r="0.62" opacity="0.81"/></g><g transform="translate(596.09,157.00) scale(0.97,0.8)"><path d="M -10.5 2.2 C -10.8 -0.5 -8.5 -1.5 -6.8 -1.2 C -5.8 -3.6 -2.6 -4 -1.2 -2.8 C 0.4 -5.4 5.2 -5.2 6 -2.2 C 8.4 -2.4 10.8 -0.4 10.6 2.2 C 10.4 4.4 8 5 5 5 L -5 5 C -8.5 5 -10.3 4.2 -10.5 2.2 Z" fill="url(#cg2)"/></g><circle cx="602.99" cy="154.00" r="5.70" fill="#ffe9a0" opacity="0.55"/><circle cx="602.99" cy="154.00" r="5.1" fill="url(#sg)"/><circle cx="602.99" cy="154.00" r="5.1" fill="url(#sh)"/><rect x="163.8" y="478.5" width="303.7" height="19.8" rx="4" ry="4" fill="#fff" stroke="#a8a8a8" stroke-width="1"/><rect x="169.6" y="486.2" width="11.4" height="4.2" fill="#ff5b60"/><rect x="234.8" y="486.2" width="11.4" height="4.2" fill="#0062ff"/><line x1="297" y1="488.3" x2="309.5" y2="488.3" stroke="#ff9a9a" stroke-width="1" stroke-dasharray="3,2"/><line x1="383.6" y1="488.3" x2="396" y2="488.3" stroke="#7fa8ff" stroke-width="1" stroke-dasharray="3,2"/></svg>
<div class="t" style="left:52.80px;top:171.00px;width:30px;text-align:center;font-size:8.5px;line-height:8.5px;color:#4a4a4a;font-weight:normal;">M</div>
<div class="t" style="left:52.80px;top:181.00px;width:30px;text-align:center;font-size:8.5px;line-height:8.5px;color:#4a4a4a;font-weight:normal;">2</div>
<div class="t" style="left:52.80px;top:443.40px;width:30px;text-align:center;font-size:8.5px;line-height:8.5px;color:#4a4a4a;font-weight:normal;">M</div>
<div class="t" style="left:52.80px;top:453.60px;width:30px;text-align:center;font-size:8.5px;line-height:8.5px;color:#4a4a4a;font-weight:normal;">2</div>
<div class="t" style="left:93.53px;top:171.00px;width:30px;text-align:center;font-size:8.5px;line-height:8.5px;color:#4a4a4a;font-weight:normal;">T</div>
<div class="t" style="left:93.53px;top:181.00px;width:30px;text-align:center;font-size:8.5px;line-height:8.5px;color:#4a4a4a;font-weight:normal;">3</div>
<div class="t" style="left:93.53px;top:443.40px;width:30px;text-align:center;font-size:8.5px;line-height:8.5px;color:#4a4a4a;font-weight:normal;">T</div>
<div class="t" style="left:93.53px;top:453.60px;width:30px;text-align:center;font-size:8.5px;line-height:8.5px;color:#4a4a4a;font-weight:normal;">3</div>
<div class="t" style="left:134.26px;top:171.00px;width:30px;text-align:center;font-size:8.5px;line-height:8.5px;color:#4a4a4a;font-weight:normal;">W</div>
<div class="t" style="left:134.26px;top:181.00px;width:30px;text-align:center;font-size:8.5px;line-height:8.5px;color:#4a4a4a;font-weight:normal;">4</div>
<div class="t" style="left:134.26px;top:443.40px;width:30px;text-align:center;font-size:8.5px;line-height:8.5px;color:#4a4a4a;font-weight:normal;">W</div>
<div class="t" style="left:134.26px;top:453.60px;width:30px;text-align:center;font-size:8.5px;line-height:8.5px;color:#4a4a4a;font-weight:normal;">4</div>
<div class="t" style="left:174.99px;top:171.00px;width:30px;text-align:center;font-size:8.5px;line-height:8.5px;color:#4a4a4a;font-weight:normal;">Th</div>
<div class="t" style="left:174.99px;top:181.00px;width:30px;text-align:center;font-size:8.5px;line-height:8.5px;color:#4a4a4a;font-weight:normal;">5</div>
<div class="t" style="left:174.99px;top:443.40px;width:30px;text-align:center;font-size:8.5px;line-height:8.5px;color:#4a4a4a;font-weight:normal;">Th</div>
<div class="t" style="left:174.99px;top:453.60px;width:30px;text-align:center;font-size:8.5px;line-height:8.5px;color:#4a4a4a;font-weight:normal;">5</div>
<div class="t" style="left:215.72px;top:171.00px;width:30px;text-align:center;font-size:8.5px;line-height:8.5px;color:#4a4a4a;font-weight:normal;">F</div>
<div class="t" style="left:215.72px;top:181.00px;width:30px;text-align:center;font-size:8.5px;line-height:8.5px;color:#4a4a4a;font-weight:normal;">6</div>
<div class="t" style="left:215.72px;top:443.40px;width:30px;text-align:center;font-size:8.5px;line-height:8.5px;color:#4a4a4a;font-weight:normal;">F</div>
<div class="t" style="left:215.72px;top:453.60px;width:30px;text-align:center;font-size:8.5px;line-height:8.5px;color:#4a4a4a;font-weight:normal;">6</div>
<div class="t" style="left:256.45px;top:171.00px;width:30px;text-align:center;font-size:8.5px;line-height:8.5px;color:#4a4a4a;font-weight:normal;">S</div>
<div class="t" style="left:256.45px;top:181.00px;width:30px;text-align:center;font-size:8.5px;line-height:8.5px;color:#4a4a4a;font-weight:normal;">7</div>
<div class="t" style="left:256.45px;top:443.40px;width:30px;text-align:center;font-size:8.5px;line-height:8.5px;color:#4a4a4a;font-weight:normal;">S</div>
<div class="t" style="left:256.45px;top:453.60px;width:30px;text-align:center;font-size:8.5px;line-height:8.5px;color:#4a4a4a;font-weight:normal;">7</div>
<div class="t" style="left:297.18px;top:171.00px;width:30px;text-align:center;font-size:8.5px;line-height:8.5px;color:#4a4a4a;font-weight:normal;">S</div>
<div class="t" style="left:297.18px;top:181.00px;width:30px;text-align:center;font-size:8.5px;line-height:8.5px;color:#4a4a4a;font-weight:normal;">8</div>
<div class="t" style="left:297.18px;top:443.40px;width:30px;text-align:center;font-size:8.5px;line-height:8.5px;color:#4a4a4a;font-weight:normal;">S</div>
<div class="t" style="left:297.18px;top:453.60px;width:30px;text-align:center;font-size:8.5px;line-height:8.5px;color:#4a4a4a;font-weight:normal;">8</div>
<div class="t" style="left:337.91px;top:171.00px;width:30px;text-align:center;font-size:8.5px;line-height:8.5px;color:#4a4a4a;font-weight:normal;">M</div>
<div class="t" style="left:337.91px;top:181.00px;width:30px;text-align:center;font-size:8.5px;line-height:8.5px;color:#4a4a4a;font-weight:normal;">9</div>
<div class="t" style="left:337.91px;top:443.40px;width:30px;text-align:center;font-size:8.5px;line-height:8.5px;color:#4a4a4a;font-weight:normal;">M</div>
<div class="t" style="left:337.91px;top:453.60px;width:30px;text-align:center;font-size:8.5px;line-height:8.5px;color:#4a4a4a;font-weight:normal;">9</div>
<div class="t" style="left:378.64px;top:171.00px;width:30px;text-align:center;font-size:8.5px;line-height:8.5px;color:#4a4a4a;font-weight:normal;">T</div>
<div class="t" style="left:378.64px;top:181.00px;width:30px;text-align:center;font-size:8.5px;line-height:8.5px;color:#4a4a4a;font-weight:normal;">10</div>
<div class="t" style="left:378.64px;top:443.40px;width:30px;text-align:center;font-size:8.5px;line-height:8.5px;color:#4a4a4a;font-weight:normal;">T</div>
<div class="t" style="left:378.64px;top:453.60px;width:30px;text-align:center;font-size:8.5px;line-height:8.5px;color:#4a4a4a;font-weight:normal;">10</div>
<div class="t" style="left:419.37px;top:171.00px;width:30px;text-align:center;font-size:8.5px;line-height:8.5px;color:#4a4a4a;font-weight:normal;">W</div>
<div class="t" style="left:419.37px;top:181.00px;width:30px;text-align:center;font-size:8.5px;line-height:8.5px;color:#4a4a4a;font-weight:normal;">11</div>
<div class="t" style="left:419.37px;top:443.40px;width:30px;text-align:center;font-size:8.5px;line-height:8.5px;color:#4a4a4a;font-weight:normal;">W</div>
<div class="t" style="left:419.37px;top:453.60px;width:30px;text-align:center;font-size:8.5px;line-height:8.5px;color:#4a4a4a;font-weight:normal;">11</div>
<div class="t" style="left:460.10px;top:171.00px;width:30px;text-align:center;font-size:8.5px;line-height:8.5px;color:#4a4a4a;font-weight:normal;">Th</div>
<div class="t" style="left:460.10px;top:181.00px;width:30px;text-align:center;font-size:8.5px;line-height:8.5px;color:#4a4a4a;font-weight:normal;">12</div>
<div class="t" style="left:460.10px;top:443.40px;width:30px;text-align:center;font-size:8.5px;line-height:8.5px;color:#4a4a4a;font-weight:normal;">Th</div>
<div class="t" style="left:460.10px;top:453.60px;width:30px;text-align:center;font-size:8.5px;line-height:8.5px;color:#4a4a4a;font-weight:normal;">12</div>
<div class="t" style="left:500.83px;top:171.00px;width:30px;text-align:center;font-size:8.5px;line-height:8.5px;color:#4a4a4a;font-weight:normal;">F</div>
<div class="t" style="left:500.83px;top:181.00px;width:30px;text-align:center;font-size:8.5px;line-height:8.5px;color:#4a4a4a;font-weight:normal;">13</div>
<div class="t" style="left:500.83px;top:443.40px;width:30px;text-align:center;font-size:8.5px;line-height:8.5px;color:#4a4a4a;font-weight:normal;">F</div>
<div class="t" style="left:500.83px;top:453.60px;width:30px;text-align:center;font-size:8.5px;line-height:8.5px;color:#4a4a4a;font-weight:normal;">13</div>
<div class="t" style="left:541.56px;top:171.00px;width:30px;text-align:center;font-size:8.5px;line-height:8.5px;color:#4a4a4a;font-weight:normal;">S</div>
<div class="t" style="left:541.56px;top:181.00px;width:30px;text-align:center;font-size:8.5px;line-height:8.5px;color:#4a4a4a;font-weight:normal;">14</div>
<div class="t" style="left:541.56px;top:443.40px;width:30px;text-align:center;font-size:8.5px;line-height:8.5px;color:#4a4a4a;font-weight:normal;">S</div>
<div class="t" style="left:541.56px;top:453.60px;width:30px;text-align:center;font-size:8.5px;line-height:8.5px;color:#4a4a4a;font-weight:normal;">14</div>
<div class="t" style="left:582.29px;top:171.00px;width:30px;text-align:center;font-size:8.5px;line-height:8.5px;color:#4a4a4a;font-weight:normal;">S</div>
<div class="t" style="left:582.29px;top:181.00px;width:30px;text-align:center;font-size:8.5px;line-height:8.5px;color:#4a4a4a;font-weight:normal;">15</div>
<div class="t" style="left:582.29px;top:443.40px;width:30px;text-align:center;font-size:8.5px;line-height:8.5px;color:#4a4a4a;font-weight:normal;">S</div>
<div class="t" style="left:582.29px;top:453.60px;width:30px;text-align:center;font-size:8.5px;line-height:8.5px;color:#4a4a4a;font-weight:normal;">15</div>
<div class="t" style="left:52.40px;top:463.80px;width:30px;text-align:center;font-size:8.5px;line-height:8.5px;color:#4a4a4a;font-weight:normal;">Jul</div>
<div class="t" style="left:29.50px;top:236.78px;font-size:14.2px;line-height:14.2px;color:#606060;font-weight:normal;">90°</div>
<div class="t" style="left:29.50px;top:298.88px;font-size:14.2px;line-height:14.2px;color:#606060;font-weight:normal;">80°</div>
<div class="t" style="left:29.50px;top:360.78px;font-size:14.2px;line-height:14.2px;color:#606060;font-weight:normal;">70°</div>
<div class="t" style="left:29.50px;top:422.98px;font-size:14.2px;line-height:14.2px;color:#606060;font-weight:normal;">60°</div>
<div class="t" style="left:184.60px;top:483.36px;font-size:9.5px;line-height:9.5px;color:#274b6d;font-weight:normal;;-webkit-text-stroke:0.25px #274b6d">Max Temp</div>
<div class="t" style="left:249.70px;top:483.36px;font-size:9.5px;line-height:9.5px;color:#274b6d;font-weight:normal;;-webkit-text-stroke:0.25px #274b6d">Min Temp</div>
<div class="t" style="left:312.30px;top:483.27px;font-size:9.6px;line-height:9.6px;color:#274b6d;font-weight:normal;;-webkit-text-stroke:0.25px #274b6d">Max Temp 30yr</div>
<div class="t" style="left:399.20px;top:483.27px;font-size:9.6px;line-height:9.6px;color:#274b6d;font-weight:normal;;-webkit-text-stroke:0.25px #274b6d">Min Temp 30yr</div>
</body></html>
